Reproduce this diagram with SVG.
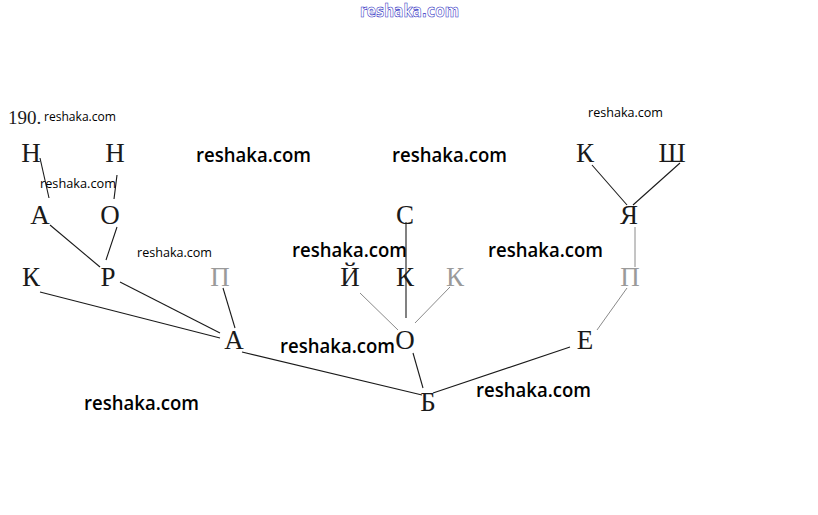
<svg xmlns="http://www.w3.org/2000/svg" width="818" height="515" viewBox="0 0 818 515">
<style>
.l{font-family:"Liberation Serif","Times New Roman",serif;font-size:27px;fill:#1a1a1a;text-anchor:middle}
.f{fill:#9a9a9a}
.e line{stroke:#1a1a1a;stroke-width:1.1}
.e line.g{stroke:#8a8a8a;stroke-width:1}
.w{font-family:"Open Sans","Noto Sans",sans-serif;font-weight:600;font-size:19px;fill:#000}
.s{font-family:"Open Sans","Noto Sans",sans-serif;font-size:12.5px;fill:#000}
.t{font-family:"DejaVu Sans",sans-serif;font-size:17px;font-weight:bold;fill:#fff;stroke:#2828c0;stroke-width:0.6}
</style>
<rect width="818" height="515" fill="#fff"/>
<g id="connectors" class="e">
<line x1="40" y1="158" x2="49" y2="198"/>
<line x1="117" y1="175" x2="114" y2="199"/>
<line x1="50" y1="225" x2="100" y2="267"/>
<line x1="117" y1="227" x2="106" y2="260"/>
<line x1="40" y1="292" x2="220" y2="338"/>
<line x1="120" y1="282" x2="220" y2="333"/>
<line x1="223" y1="288" x2="235" y2="328"/>
<line x1="242" y1="352" x2="422" y2="395"/>
<line class="g" x1="360" y1="293" x2="398" y2="330"/>
<line x1="406" y1="222" x2="406" y2="318"/>
<line class="g" x1="450" y1="287" x2="415" y2="323"/>
<line x1="413" y1="353" x2="423" y2="388"/>
<line x1="433" y1="393" x2="570" y2="347"/>
<line class="g" x1="597" y1="330" x2="627" y2="288"/>
<line class="g" x1="635" y1="267" x2="635" y2="227"/>
<line x1="592" y1="165" x2="627" y2="205"/>
<line x1="680" y1="163" x2="633" y2="205"/>
</g>
<g id="n-N1"><text class="l" x="31" y="162">Н</text></g>
<g id="n-N2"><text class="l" x="115" y="162">Н</text></g>
<g id="n-A1"><text class="l" x="40" y="224">А</text></g>
<g id="n-O1"><text class="l" x="110" y="224">О</text></g>
<g id="n-K1"><text class="l" x="31" y="286">К</text></g>
<g id="n-R"><text class="l" x="108" y="286">Р</text></g>
<g id="n-P1"><text class="l f" x="220" y="286">П</text></g>
<g id="n-A2"><text class="l" x="234" y="349">А</text></g>
<g id="n-J"><text class="l" x="350" y="286">Й</text></g>
<g id="n-S"><text class="l" x="405" y="224">С</text></g>
<g id="n-K2"><text class="l" x="405" y="286">К</text></g>
<g id="n-K3"><text class="l f" x="455" y="286">К</text></g>
<g id="n-O2"><text class="l" x="405" y="349">О</text></g>
<g id="n-B"><text class="l" x="428" y="411">Б</text></g>
<g id="n-E"><text class="l" x="585" y="349">Е</text></g>
<g id="n-P2"><text class="l f" x="630" y="286">П</text></g>
<g id="n-Ya"><text class="l" x="629" y="224">Я</text></g>
<g id="n-K4"><text class="l" x="585" y="162">К</text></g>
<g id="n-Sh"><text class="l" x="672" y="162">Ш</text></g>
<g id="labels">
<text x="8" y="124" style="font-family:'Liberation Serif',serif;font-size:19px;fill:#1a1a1a">190.</text>
<text class="t" x="360" y="17" textLength="99" lengthAdjust="spacingAndGlyphs">reshaka.com</text>
<text class="s" x="44" y="121" textLength="72" lengthAdjust="spacingAndGlyphs">reshaka.com</text>
<text class="s" x="40" y="188" textLength="76" lengthAdjust="spacingAndGlyphs">reshaka.com</text>
<text class="s" x="137" y="257" textLength="75" lengthAdjust="spacingAndGlyphs">reshaka.com</text>
<text class="s" x="588" y="117" textLength="75" lengthAdjust="spacingAndGlyphs">reshaka.com</text>
<text class="w" x="196" y="162" textLength="115" lengthAdjust="spacingAndGlyphs">reshaka.com</text>
<text class="w" x="392" y="162" textLength="115" lengthAdjust="spacingAndGlyphs">reshaka.com</text>
<text class="w" x="292" y="257" textLength="115" lengthAdjust="spacingAndGlyphs">reshaka.com</text>
<text class="w" x="488" y="257" textLength="115" lengthAdjust="spacingAndGlyphs">reshaka.com</text>
<text class="w" x="280" y="353" textLength="115" lengthAdjust="spacingAndGlyphs">reshaka.com</text>
<text class="w" x="84" y="410" textLength="115" lengthAdjust="spacingAndGlyphs">reshaka.com</text>
<text class="w" x="476" y="397" textLength="115" lengthAdjust="spacingAndGlyphs">reshaka.com</text>
</g>
</svg>
